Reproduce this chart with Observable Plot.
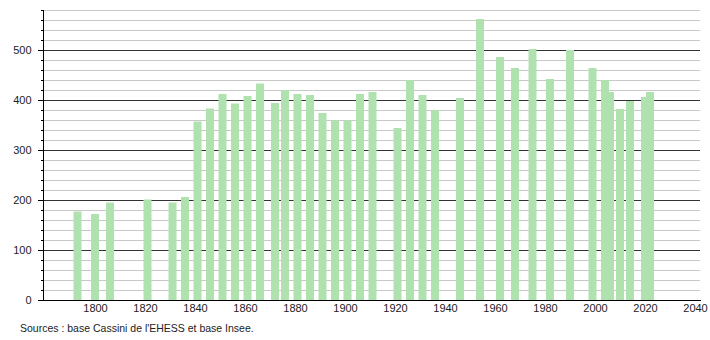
<!DOCTYPE html>
<html><head><meta charset="utf-8">
<script src="https://cdn.jsdelivr.net/npm/d3@7"></script>
<script src="https://cdn.jsdelivr.net/npm/@observablehq/plot@0.6"></script>
<style>
body{margin:0;background:#fff;font-family:"Liberation Sans",Arial,sans-serif}
#cap{font-size:10.5px;line-height:12px;color:#222;margin:8px 0 0 20px}
</style>
</head><body><div id="chart"></div><div id="cap">Sources : base Cassini de l'EHESS et base Insee.</div>
<script>
const years = [1793,1800,1806,1821,1831,1836,1841,1846,1851,1856,1861,1866,1872,1876,1881,1886,1891,1896,1901,1906,1911,1921,1926,1931,1936,1946,1954,1962,1968,1975,1982,1990,1999,2004,2006,2010,2014,2020,2022];
const population = [177,172,195,201,195,206,357,383,412,393,408,433,394,420,412,410,374,359,359,412,416,344,440,410,380,404,562,486,464,502,442,500,464,440,416,382,398,406,416];
const xTicks = [1800,1820,1840,1860,1880,1900,1920,1940,1960,1980,2000,2020,2040];
const yTicks = [0,100,200,300,400,500];
const yMinor = d3.range(0, 581, 20);

const data = years.map((y, i) => ({year: y, pop: population[i]}));
const half = 1.6;

const chart = Plot.plot({
  width: 710, height: 314,
  marginLeft: 43, marginRight: 10, marginTop: 10, marginBottom: 14,
  style: {fontFamily: '"Liberation Sans", Arial, sans-serif', fontSize: "11px", color: "#222", background: "#fff"},
  x: {domain: [1779.2, 2042]},
  y: {domain: [0, 580]},
  marks: [
    Plot.ruleY(yMinor, {stroke: "#c8c8c8", strokeWidth: 1}),
    Plot.ruleY(yTicks, {stroke: "#333", strokeWidth: 1}),
    Plot.rectY(data, {x1: d => d.year - half, x2: d => d.year + half, y: "pop", fill: "#b0e2b0"}),
    Plot.frame({anchor: "left", stroke: "#000"}),
    Plot.frame({anchor: "bottom", stroke: "#000"}),
    Plot.axisY({ticks: yMinor, tickSize: 2, text: null, label: null, stroke: "#000"}),
    Plot.axisY({ticks: yTicks, tickSize: 5, tickPadding: 7, label: null, stroke: "#000", fill: "#222"}),
    Plot.axisX({ticks: xTicks, tickSize: 0, tickPadding: 4, label: null, tickFormat: d => String(d), fill: "#222"})
  ]
});
document.getElementById("chart").appendChild(chart);
</script>
</body></html>
